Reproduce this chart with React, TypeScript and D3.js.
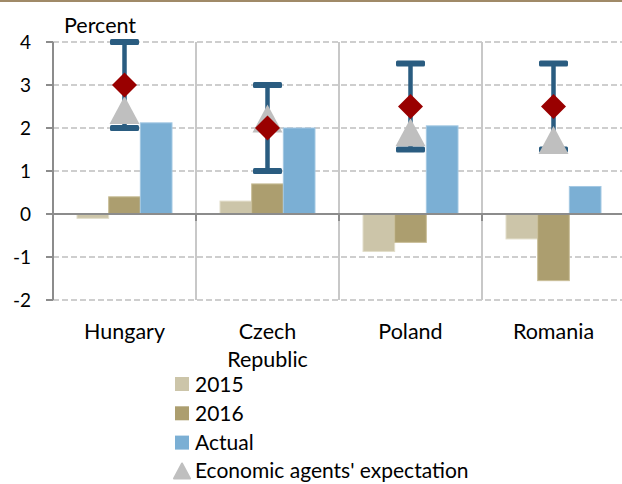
import React from 'react';
import * as d3 from 'd3';

const categories = ['Hungary', 'Czech Republic', 'Poland', 'Romania'];
const labelLines = [['Hungary'], ['Czech', 'Republic'], ['Poland'], ['Romania']];
const series = ['2015', '2016', 'Actual'];
const values2015 = [-0.1, 0.3, -0.87, -0.58];
const values2016 = [0.4, 0.7, -0.66, -1.55];
const valuesActual = [2.12, 2.0, 2.05, 0.64];
const targetMid = [3, 2, 2.5, 2.5];
const targetLow = [2, 1, 1.5, 1.5];
const targetHigh = [4, 3, 3.5, 3.5];
const expectation = [2.42, 2.22, 1.9, 1.72];
const yTicks = [-2, -1, 0, 1, 2, 3, 4];

const seriesColors = { '2015': '#CCC5A9', '2016': '#AC9E6F', Actual: '#7BAFD4' };
const seriesStroke = { '2015': '#E2DDC9', '2016': '#C9BE98', Actual: '#A3C8E3' };
const errColor = '#2A5C80';
const font = 'Lato, Carlito, Calibri, sans-serif';

const App = () => {
  const width = 622;
  const height = 484;
  const x = d3.scaleBand().domain(categories).range([53, 625]).paddingInner(0);
  const inner = d3.scaleBand().domain(series).range([24, 119]).padding(0);
  const y = d3.scaleLinear().domain([-2, 4]).range([300, 42]);

  const seriesValues = { '2015': values2015, '2016': values2016, Actual: valuesActual };
  const y0 = y(0);
  const capW = 29;
  const capH = 6;
  const tri = (cx, cy) => {
    const w = 30;
    const h = 28;
    return `M${cx},${cy - h / 2}L${cx + w / 2},${cy + h / 2}L${cx - w / 2},${cy + h / 2}Z`;
  };
  const dia = (cx, cy) => {
    const r = 12.5;
    return `M${cx},${cy - r}L${cx + r},${cy}L${cx},${cy + r}L${cx - r},${cy}Z`;
  };

  return (
    <svg width={width} height={height} style={{ position: 'absolute', left: 0, top: 0, background: '#fff' }} fontFamily={font}>
      <rect x={0} y={0} width={width} height={2} fill="#A08A68" />

      {/* gridlines */}
      {yTicks
        .filter((t) => t !== 0)
        .map((t) => (
          <line key={'g' + t} x1={53} x2={625} y1={y(t)} y2={y(t)} stroke="#BFBFBF" strokeWidth={1.5} strokeDasharray="6,3" />
        ))}

      {/* category dividers */}
      {categories.slice(1).map((c) => (
        <g key={'d' + c}>
          <line x1={x(c)} x2={x(c)} y1={y(4)} y2={y(-2)} stroke="#C8C8C8" strokeWidth={2} />
          <line x1={x(c)} x2={x(c)} y1={y0} y2={y0 + 7} stroke="#8C8C8C" strokeWidth={2} />
        </g>
      ))}

      {/* bars */}
      {categories.map((c, i) =>
        series.map((s) => {
          const v = seriesValues[s][i];
          return (
            <rect
              key={c + s}
              x={x(c) + inner(s)}
              y={Math.min(y(v), y0)}
              width={inner.bandwidth()}
              height={Math.abs(y(v) - y0)}
              fill={seriesColors[s]}
              stroke={seriesStroke[s]}
              strokeWidth={1}
            />
          );
        })
      )}

      {/* zero line and y axis */}
      <line x1={53} x2={625} y1={y0} y2={y0} stroke="#8C8C8C" strokeWidth={2} />
      <line x1={53} x2={53} y1={y(4)} y2={y(-2)} stroke="#8C8C8C" strokeWidth={2} />
      {yTicks.map((t) => (
        <g key={'t' + t}>
          <line x1={46} x2={53} y1={y(t)} y2={y(t)} stroke="#8C8C8C" strokeWidth={2} />
          <text x={31} y={y(t)} dy="0.36em" textAnchor="end" fontSize={19} fill="#000">
            {t}
          </text>
        </g>
      ))}

      {/* target ranges */}
      {categories.map((c, i) => {
        const cx = x(c) + x.bandwidth() / 2;
        return (
          <g key={'e' + c}>
            <line x1={cx} x2={cx} y1={y(targetHigh[i])} y2={y(targetLow[i])} stroke={errColor} strokeWidth={4.5} />
            <rect x={cx - capW / 2} y={y(targetHigh[i]) - capH / 2} width={capW} height={capH} rx={1.5} fill={errColor} />
            <rect x={cx - capW / 2} y={y(targetLow[i]) - capH / 2} width={capW} height={capH} rx={1.5} fill={errColor} />
          </g>
        );
      })}
      {categories.map((c, i) => (
        <path key={'tr' + c} d={tri(x(c) + x.bandwidth() / 2, y(expectation[i]))} fill="#BFBFBF" />
      ))}
      {categories.map((c, i) => (
        <path key={'di' + c} d={dia(x(c) + x.bandwidth() / 2, y(targetMid[i]))} fill="#990000" />
      ))}

      <text x={64} y={33} fontSize={21.5} fill="#000">
        Percent
      </text>

      {/* category labels */}
      {categories.map((c, i) => (
        <text key={'l' + c} x={x(c) + x.bandwidth() / 2} y={339} textAnchor="middle" fontSize={21.5} fill="#000">
          {labelLines[i].map((ln, j) => (
            <tspan key={j} x={x(c) + x.bandwidth() / 2} dy={j === 0 ? 0 : 28}>
              {ln}
            </tspan>
          ))}
        </text>
      ))}

      {/* legend */}
      {series.map((s, i) => (
        <g key={'lg' + s} transform={`translate(175,${384 + i * 29.3})`}>
          <rect x={0} y={-7} width={14} height={14} fill={seriesColors[s]} />
          <text x={20} y={0} dy="0.36em" fontSize={21} fill="#000">
            {s}
          </text>
        </g>
      ))}
      <g transform="translate(175,471)">
        <path d="M7,-7.5L15,7.5L-1,7.5Z" fill="#BFBFBF" strokeLinejoin="round" stroke="#BFBFBF" strokeWidth={2} />
        <text x={20} y={0} dy="0.34em" fontSize={21} fill="#000">
          Economic agents' expectation
        </text>
      </g>
    </svg>
  );
};

export default App;
